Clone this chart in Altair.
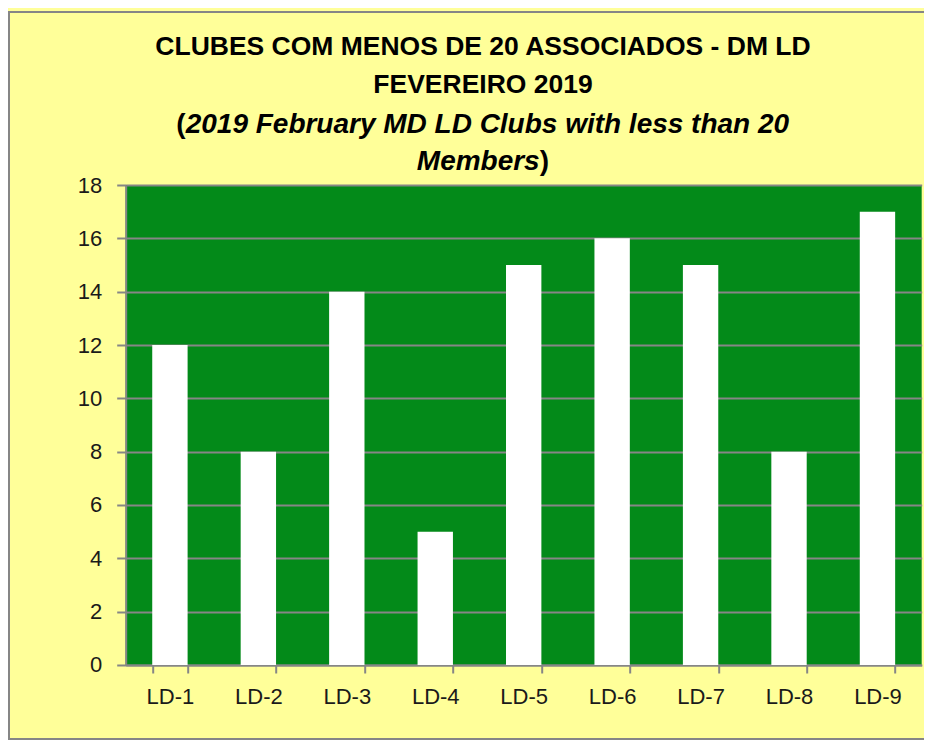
import altair as alt
import pandas as pd

districts = ["LD-1", "LD-2", "LD-3", "LD-4", "LD-5", "LD-6", "LD-7", "LD-8", "LD-9"]
clubs_under_20 = [12, 8, 14, 5, 15, 16, 15, 8, 17]
y_ticks = [0, 2, 4, 6, 8, 10, 12, 14, 16, 18]

title_line1 = "CLUBES COM MENOS DE 20 ASSOCIADOS - DM LD"
title_line2 = "FEVEREIRO 2019"
subtitle_line1 = "2019 February MD LD  Clubs with less than 20"
subtitle_line2 = "Members"

df = pd.DataFrame({"distrito": districts, "clubes": clubs_under_20})

GRID = "#868686"
LABEL_FONT = "Liberation Sans"
TITLE_FONT = "Liberation Sans"
TEXT = "#1a1a1a"
TSIZE = 26.5
SSIZE = 28

bars = alt.Chart(df).mark_bar(color="white").encode(
    x=alt.X(
        "distrito:N",
        sort=districts,
        scale=alt.Scale(paddingInner=0.6, paddingOuter=0.3),
        axis=alt.Axis(
            title=None, labelAngle=0, tickBand="extent", tickSize=8,
            tickColor=GRID, tickWidth=2, domainColor=GRID, domainWidth=2,
            labelFontSize=22, labelFont=LABEL_FONT, labelColor=TEXT,
            labelPadding=14, grid=False,
        ),
    ),
    y=alt.Y(
        "clubes:Q",
        scale=alt.Scale(domain=[0, 18], nice=False),
        axis=alt.Axis(
            title=None, values=y_ticks, grid=True, gridColor=GRID, gridWidth=2,
            domainColor=GRID, domainWidth=2, tickColor=GRID, tickWidth=2,
            tickSize=9, labelFontSize=22, labelFont=LABEL_FONT, labelColor=TEXT,
            labelPadding=15,
        ),
    ),
)

frame = alt.Chart(alt.Data(values=[{}])).mark_rect(
    filled=False, stroke=GRID, strokeWidth=2
).encode(
    x=alt.value(-116.7), x2=alt.value(830), y=alt.value(-173), y2=alt.value(554)
)


def title_text(txt, x, y, align, size, italic=False):
    return alt.Chart(alt.Data(values=[{}])).mark_text(
        text=txt, font=TITLE_FONT, fontSize=size, fontWeight="bold",
        fontStyle="italic" if italic else "normal", color="black",
        align=align, baseline="alphabetic",
    ).encode(x=alt.value(x), y=alt.value(y))


titles = [
    title_text(title_line1, 357.3, -130, "center", TSIZE),
    title_text(title_line2, 357.3, -92, "center", TSIZE),
    title_text("(", 60, -52, "right", SSIZE),
    title_text(subtitle_line1, 60, -52, "left", SSIZE, italic=True),
    title_text(subtitle_line2, 414, -15, "right", SSIZE, italic=True),
    title_text(")", 414, -15, "left", SSIZE),
]

chart = alt.layer(frame, bars, *titles).properties(
    width=796,
    height=480,
    padding={"left": 117.7, "top": 177, "right": 2, "bottom": 75},
    autosize=alt.AutoSizeParams(type="none"),
    background="#FFFF99",
).configure_view(fill="#038A19", strokeWidth=0)

chart.save("out.html", embed_options={"renderer": "svg", "actions": False})
